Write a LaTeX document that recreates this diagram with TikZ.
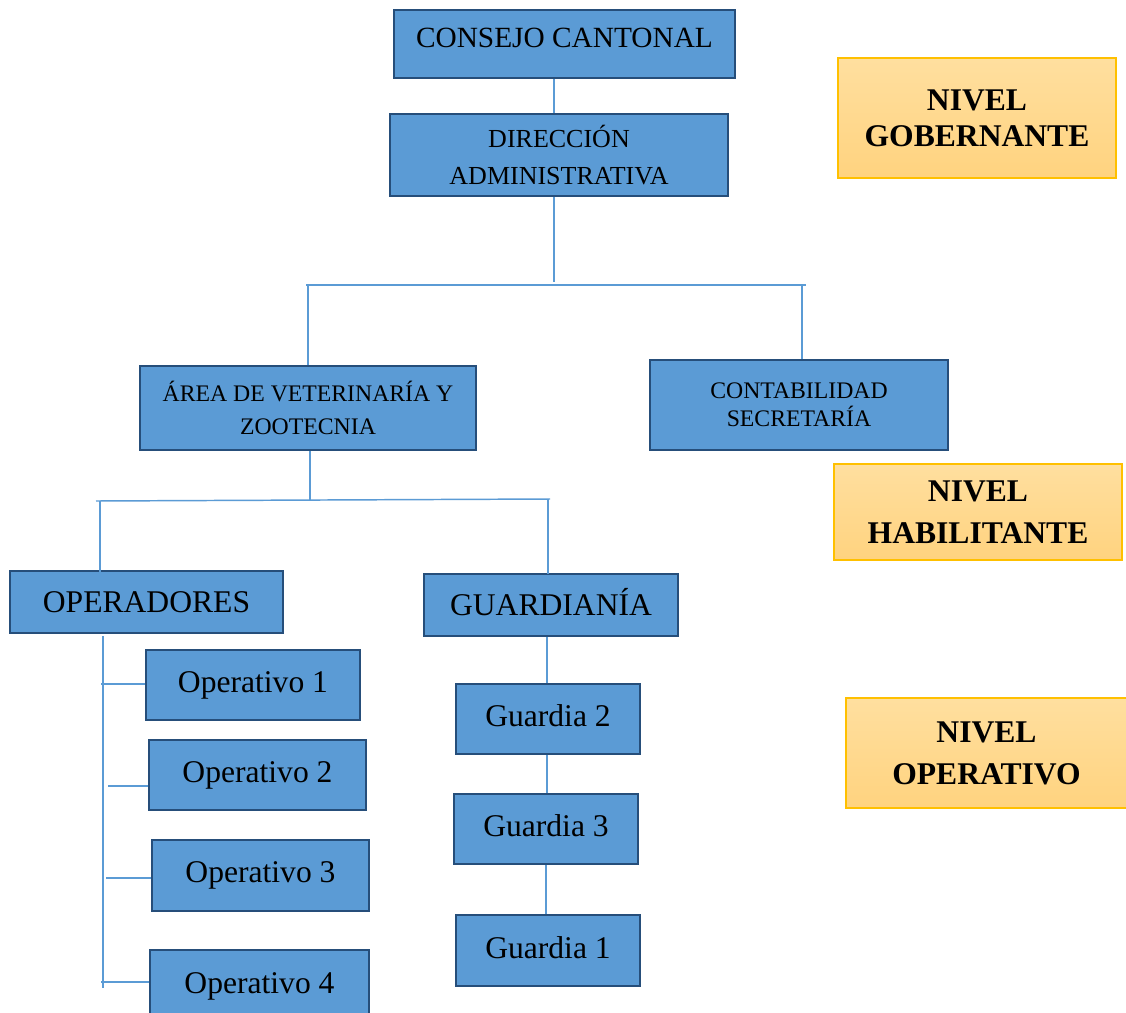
\documentclass[tikz,border=0pt]{standalone}
\usepackage{fontspec}
\setmainfont{Liberation Serif}
\definecolor{boxfill}{HTML}{5B9BD5}
\definecolor{boxline}{RGB}{38,78,122}
\definecolor{linkblue}{HTML}{5B9BD5}
\definecolor{lvltop}{HTML}{FFDF9F}
\definecolor{lvlbot}{HTML}{FFD37F}
\definecolor{lvlline}{HTML}{FFC000}
\tikzset{
  sz/.style 2 args={minimum width=#1*0.75pt, minimum height=#2*0.75pt},
  unit/.style={draw=boxline, fill=boxfill, line width=2.1pt, inner sep=0pt,
    align=center, text=black},
  big/.style={font=\fontsize{23.7}{28}\selectfont},
  level/.style={draw=lvlline, line width=1.1pt, top color=lvltop, bottom color=lvlbot,
    inner sep=0pt, align=center},
  lvfont/.style={font=\fontsize{23.7}{#1}\selectfont\bfseries},
  link/.style={draw=linkblue, line width=1.1pt}
}
\begin{document}
\begin{tikzpicture}[x=0.75pt,y=-0.75pt]
\useasboundingbox (0,0) rectangle (1126,1012);
\fill[white] (0,0) rectangle (1126,1012);

% governing level
\node[unit, sz={341}{68}, text depth=9pt, font=\fontsize{22}{26}\selectfont]
  (cons) at (564.5,44) {CONSEJO CANTONAL};
\node[unit, sz={338}{82}, font=\fontsize{19.5}{27.5}\selectfont]
  (dir) at (559,155) {DIRECCIÓN\\ADMINISTRATIVA};

% enabling level
\node[unit, sz={336}{84}, font=\fontsize{17.8}{24.5}\selectfont]
  (area) at (308,408) {ÁREA DE VETERINARÍA Y\\ZOOTECNIA};
\node[unit, sz={298}{90}, font=\fontsize{17.8}{21}\selectfont]
  (cont) at (799,405) {CONTABILIDAD\\SECRETARÍA};

% operating level
\node[unit, big, sz={273}{62}] (oper) at (146.5,602) {OPERADORES};
\node[unit, big, sz={254}{62}, text depth=4pt] (guard) at (551,605) {GUARDIANÍA};

\node[unit, big, sz={214}{70}] (op1) at (253,685) {Operativo 1};
\node[unit, big, sz={217}{70}] (op2) at (257.5,775) {Operativo 2};
\node[unit, big, sz={217}{71}] (op3) at (260.5,875.5) {Operativo 3};
\node[unit, big, sz={219}{72}] (op4) at (259.5,986) {Operativo 4};

\node[unit, big, sz={184}{70}, text depth=5pt] (g2) at (548,719) {Guardia 2};
\node[unit, big, sz={184}{70}, text depth=5pt] (g3) at (546,829) {Guardia 3};
\node[unit, big, sz={184}{71}, text depth=5pt] (g1) at (548,950.5) {Guardia 1};

% level labels
\node[level, lvfont=27, sz={278}{120}] (lvgob) at (977,118) {NIVEL\\GOBERNANTE};
\node[level, lvfont=31.5, sz={288}{96}] (lvhab) at (978,512) {NIVEL\\HABILITANTE};
\node[level, lvfont=31.5, sz={281}{110}] (lvope) at (986.5,753) {NIVEL\\OPERATIVO};

% branch points
\coordinate (hubA) at (554,285);
\coordinate (hubAL) at (306,285);
\coordinate (hubAR) at (806,285);
\coordinate (dropArea) at (308,285);
\coordinate (dropCont) at (802,285);
\coordinate (hubB) at (310,500);
\coordinate (hubBL) at (96,501);
\coordinate (hubBR) at (550,499);
\coordinate (dropOper) at (100,501);
\coordinate (dropGuard) at (548,499);
\coordinate (operTop) at (103,636);
\coordinate (operBot) at (103,988);
\coordinate (t1) at (101,684);
\coordinate (t2) at (108,786);
\coordinate (t3) at (106,878);
\coordinate (t4) at (101,982);

% connectors
\draw[link] (cons.south -| hubA) -- (dir.north -| hubA);
\draw[link] (dir.south -| hubA) -- ([yshift=2]hubA);
\draw[link] (hubAL) -- (hubAR);
\draw[link] (dropArea) -- (dropArea |- area.north);
\draw[link] (dropCont) -- (dropCont |- cont.north);

\draw[link] (area.south -| hubB) -- (hubB);
\draw[link] (hubBL) -- (hubBR);
\draw[link] (dropOper) -- ([yshift=-5]dropOper |- oper.north);
\draw[link] (dropGuard) -- ([yshift=-1]dropGuard |- guard.north);

\draw[link] (operTop) -- (operBot);
\draw[link] (t1) -- (t1 -| op1.west);
\draw[link] (t2) -- (t2 -| op2.west);
\draw[link] (t3) -- (t3 -| op3.west);
\draw[link] (t4) -- (t4 -| op4.west);

\draw[link] (guard.south -| 547,0) -- (g2.north -| 547,0);
\draw[link] (g2.south -| 547,0) -- (g3.north -| 547,0);
\draw[link] (g3.south -| 546,0) -- (g1.north -| 546,0);
\end{tikzpicture}
\end{document}
